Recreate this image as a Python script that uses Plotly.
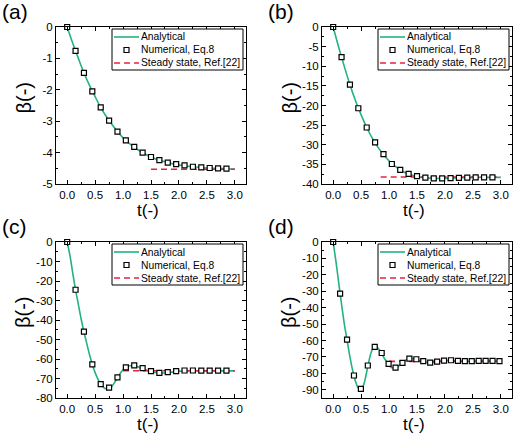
import plotly.graph_objects as go

# ---------------- data ----------------
# numerical points (squares)
t_num_abc = [0, 0.15, 0.3, 0.45, 0.6, 0.75, 0.9, 1.05, 1.2, 1.35, 1.5, 1.65, 1.8, 1.95,
             2.1, 2.25, 2.4, 2.55, 2.7, 2.85]
num_a = [0, -0.76, -1.46, -2.05, -2.56, -2.98, -3.33, -3.61, -3.82, -4.0, -4.14, -4.24,
         -4.32, -4.37, -4.41, -4.45, -4.47, -4.49, -4.5, -4.51]
num_b = [0, -7.7, -14.7, -20.7, -25.6, -29.4, -32.4, -34.9, -36.4, -37.4, -38.0, -38.4,
         -38.55, -38.55, -38.5, -38.45, -38.4, -38.3, -38.3, -38.3]
num_c = [0, -24.5, -46, -62.8, -72.9, -74.7, -69.4, -64.3, -63.3, -64.7, -66.2, -67.1,
         -66.7, -66.2, -65.9, -65.9, -66.0, -66.0, -66.0, -66.0]
t_num_d = [0, 0.124, 0.248, 0.372, 0.496, 0.62, 0.744, 0.868, 0.992, 1.116, 1.24, 1.364,
           1.488, 1.612, 1.736, 1.86, 1.984, 2.108, 2.232, 2.356, 2.48, 2.604, 2.728,
           2.852, 2.976]
num_d = [0, -31.4, -59.5, -81.3, -89.4, -75.2, -63.9, -67.6, -74.2, -76.5, -73.6, -71.0,
         -71.4, -72.6, -73.4, -72.8, -72.2, -72.0, -72.4, -72.6, -72.6, -72.4, -72.4,
         -72.4, -72.6]

# analytical curves
t_an_ab = [0, 0.1, 0.2, 0.3, 0.4, 0.5, 0.6, 0.7, 0.8, 0.9, 1.0, 1.1, 1.2, 1.3, 1.4, 1.5,
           1.6, 1.7, 1.8, 1.9, 2.0, 2.1, 2.2, 2.3, 2.4, 2.5, 2.6, 2.7, 2.8, 2.9, 3.0]
an_a = [0, -0.52, -1.0, -1.46, -1.86, -2.22, -2.56, -2.85, -3.1, -3.33, -3.53, -3.69,
        -3.82, -3.95, -4.05, -4.14, -4.21, -4.27, -4.32, -4.36, -4.39, -4.42, -4.44,
        -4.46, -4.47, -4.49, -4.5, -4.5, -4.51, -4.52, -4.52]
an_b = [0, -5.2, -10.1, -14.7, -18.8, -22.4, -25.6, -28.3, -30.6, -32.5, -34.1, -35.4,
        -36.4, -37.2, -37.7, -38.1, -38.35, -38.5, -38.55, -38.6, -38.55, -38.5, -38.45,
        -38.4, -38.4, -38.35, -38.3, -38.3, -38.3, -38.3, -38.3]
t_an_c = [0, 0.05, 0.1, 0.15, 0.2, 0.25, 0.3, 0.35, 0.4, 0.45, 0.5, 0.55, 0.6, 0.65, 0.7,
          0.75, 0.8, 0.85, 0.9, 0.95, 1.0, 1.05, 1.1, 1.15, 1.2, 1.25, 1.3, 1.35, 1.4,
          1.45, 1.5, 1.6, 1.7, 1.8, 1.9, 2.0, 2.1, 2.2, 2.3, 2.4, 2.5, 2.6, 2.8, 3.0]
an_c = [0, -7, -16, -24.5, -32, -39.5, -46, -52, -57.8, -62.8, -67, -70.3, -72.9, -74.5,
        -75.3, -75.2, -74, -72, -69.6, -67.3, -65.5, -64.3, -63.6, -63.3, -63.4, -63.8,
        -64.3, -64.9, -65.5, -66.0, -66.4, -67.0, -67.2, -67.0, -66.6, -66.3, -66.1,
        -66.0, -66.0, -66.1, -66.1, -66.1, -66.1, -66.1]
t_an_d = [0, 0.05, 0.1, 0.15, 0.2, 0.25, 0.3, 0.35, 0.4, 0.45, 0.5, 0.55, 0.6, 0.65, 0.7,
          0.75, 0.8, 0.85, 0.9, 0.95, 1.0, 1.05, 1.1, 1.15, 1.2, 1.25, 1.3, 1.35, 1.4,
          1.45, 1.5, 1.6, 1.7, 1.8, 1.9, 2.0, 2.1, 2.2, 2.3, 2.4, 2.5, 2.6, 2.8, 3.0]
an_d = [0, -12, -25, -38, -50, -60, -70, -78.5, -85, -89, -90, -86.5, -79, -71, -65.5,
        -63.8, -64.6, -66.5, -70, -72.5, -75, -76.6, -76.8, -76, -74.8, -73.4, -72.0,
        -71.2, -70.9, -71.1, -71.7, -72.9, -73.4, -73.1, -72.6, -72.3, -72.2, -72.4,
        -72.6, -72.7, -72.6, -72.5, -72.5, -72.6]

# steady state (Ref.[22])
ss_t_a = [1.5, 3.0]
ss_a = [-4.53, -4.53]
ss_t_b = [0.85, 3.0]
ss_b = [-38.2, -38.2]
ss_t_c = [1.0, 3.0]
ss_c = [-66.0, -66.0]
ss_t_d = [1.0, 3.0]
ss_d = [-72.7, -72.7]

# tick labels
x_ticks = [0, 0.5, 1.0, 1.5, 2.0, 2.5, 3.0]
x_ticktext = ["0.0", "0.5", "1.0", "1.5", "2.0", "2.5", "3.0"]
y_ticks_a = [0, -1, -2, -3, -4, -5]
y_ticks_b = [0, -5, -10, -15, -20, -25, -30, -35, -40]
y_ticks_c = [0, -10, -20, -30, -40, -50, -60, -70, -80]
y_ticks_d = [0, -10, -20, -30, -40, -50, -60, -70, -80, -90]
y_ranges = [[-5, 0], [-40, 0], [-80, 0], [-95, 0]]
y_dticks = [1, 5, 10, 10]
panel_labels = ["(a)", "(b)", "(c)", "(d)"]
legend_names = ["Analytical", "Numerical, Eq.8", "Steady state, Ref.[22]"]
x_title = "t(-)"
y_title = "β(-)"

# ---------------- styling ----------------
W, H = 520, 436
FONT = "Liberation Sans, Arial, sans-serif"
GREEN = "#22b47c"
RED = "#e8243c"

# panel boxes in pixels: (left, right, top, bottom)
boxes = [(56, 246, 27, 184), (322, 512, 27, 184), (56, 246, 242, 398), (322, 512, 242, 398)]

panels = [
    (t_an_ab, an_a, t_num_abc, num_a, ss_t_a, ss_a, y_ticks_a),
    (t_an_ab, an_b, t_num_abc, num_b, ss_t_b, ss_b, y_ticks_b),
    (t_an_c, an_c, t_num_abc, num_c, ss_t_c, ss_c, y_ticks_c),
    (t_an_d, an_d, t_num_d, num_d, ss_t_d, ss_d, y_ticks_d),
]


def px(x):
    return x / W


def py(y):
    return 1 - y / H


fig = go.Figure()
layout = dict(
    template="none",
    width=W, height=H, margin=dict(l=0, r=0, t=0, b=0, autoexpand=False),
    paper_bgcolor="white", plot_bgcolor="white",
    font=dict(family=FONT, size=11, color="black"),
    showlegend=False, annotations=[], shapes=[],
)

for i, (ta, ya, tn, yn, ts, ys, yt) in enumerate(panels):
    k = "" if i == 0 else str(i + 1)
    xa, ya_name = "x" + k, "y" + k
    fig.add_trace(go.Scatter(x=ta, y=ya, mode="lines", line=dict(color=GREEN, width=1.6, shape="spline"),
                             name=legend_names[0], xaxis=xa, yaxis=ya_name))
    fig.add_trace(go.Scatter(x=ts, y=ys, mode="lines", line=dict(color=RED, width=1.6, dash="6px,4px"),
                             name=legend_names[2], xaxis=xa, yaxis=ya_name))
    fig.add_trace(go.Scatter(x=tn, y=yn, mode="markers", cliponaxis=False,
                             marker=dict(symbol="square", size=5, color="white",
                                         line=dict(width=1.2, color="black")),
                             name=legend_names[1], xaxis=xa, yaxis=ya_name))

    l, r, t, b = boxes[i]
    axis_common = dict(showline=True, linecolor="black", linewidth=1, mirror="allticks",
                       ticks="inside", ticklen=4, tickwidth=1, tickcolor="black",
                       showgrid=False, zeroline=False, automargin=False,
                       tickfont=dict(family=FONT, size=11.5, color="black"))
    layout["xaxis" + k] = dict(
        axis_common, domain=[px(l), px(r)], range=[-0.2, 3.2], anchor=ya_name,
        tickvals=x_ticks, ticktext=x_ticktext,
        minor=dict(ticks="inside", ticklen=2, dtick=0.25, tick0=0, tickcolor="black", showgrid=False),
    )
    layout["yaxis" + k] = dict(
        axis_common, domain=[py(b), py(t)], range=y_ranges[i], anchor=xa,
        tickvals=yt, ticktext=[str(v) for v in yt],
        minor=dict(ticks="inside", ticklen=2, dtick=y_dticks[i] / 2, tick0=0, tickcolor="black", showgrid=False),
    )
    # axis titles
    layout["annotations"].append(dict(
        text=x_title, x=px((l + r) / 2 - 3), y=py(b + 26), xref="paper", yref="paper",
        xanchor="center", yanchor="middle", showarrow=False, borderpad=0,
        font=dict(family=FONT, size=17, color="black"),
    ))
    layout["annotations"].append(dict(
        text=y_title, x=px(l - 33), y=py((t + b) / 2 - 7), xref="paper", yref="paper",
        xanchor="center", yanchor="middle", showarrow=False, textangle=-90, borderpad=0,
        font=dict(family=FONT, size=20, color="black"),
    ))
    # panel label
    layout["annotations"].append(dict(
        text=panel_labels[i], x=px(l - 55), y=py(t - 28), xref="paper", yref="paper",
        xanchor="left", yanchor="top", showarrow=False, borderpad=0,
        font=dict(family=FONT, size=21, color="black"),
    ))
    # legend box (drawn per panel)
    lx0, lx1, ly0, ly1 = l + 56, r - 3, t + 2, t + 43
    layout["shapes"].append(dict(type="rect", xref="paper", yref="paper",
                                 x0=px(lx0), x1=px(lx1), y0=py(ly1), y1=py(ly0),
                                 line=dict(color="black", width=1), fillcolor="white", layer="above"))
    rows = [t + 10, t + 23, t + 36]
    layout["shapes"].append(dict(type="line", xref="paper", yref="paper",
                                 x0=px(lx0 + 2), x1=px(lx0 + 27), y0=py(rows[0]), y1=py(rows[0]),
                                 line=dict(color=GREEN, width=1.6), layer="above"))
    cx = lx0 + 14.5
    layout["shapes"].append(dict(type="rect", xref="paper", yref="paper",
                                 x0=px(cx - 2.5), x1=px(cx + 2.5), y0=py(rows[1] + 2.5), y1=py(rows[1] - 2.5),
                                 line=dict(color="black", width=1.2), fillcolor="white", layer="above"))
    layout["shapes"].append(dict(type="line", xref="paper", yref="paper",
                                 x0=px(lx0 + 2), x1=px(lx0 + 27), y0=py(rows[2]), y1=py(rows[2]),
                                 line=dict(color=RED, width=1.6, dash="6px,4px"), layer="above"))
    for name, ry in zip(legend_names, rows):
        layout["annotations"].append(dict(
            text=name, x=px(lx0 + 28), y=py(ry), xref="paper", yref="paper",
            xanchor="left", yanchor="middle", showarrow=False, borderpad=0,
            font=dict(family=FONT, size=10.3, color="black"),
        ))

fig.update_layout(**layout)
fig.write_html("out.html", config={"displayModeBar": False, "staticPlot": True},
               post_script="document.body.style.margin='0px';")
